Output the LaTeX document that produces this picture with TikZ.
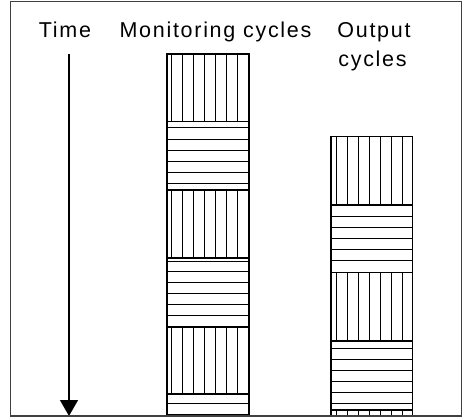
\documentclass[tikz,border=0pt]{standalone}
\usepackage{fontspec}
\setmainfont{Liberation Sans}[LetterSpace=8]
\usetikzlibrary{arrows.meta}
\tikzset{
  frameline/.style={draw=black!75, line width=1.8pt},
  hatch/.style={draw=black, line width=0.9pt},
  border/.style={draw=black, line width=1.6pt},
  label/.style={inner sep=0pt, anchor=base, font=\fontsize{21.5}{25}\selectfont},
  timearrow/.style={draw=black, line width=1.3pt, -{Triangle[width=18pt,length=16pt]}}
}
\begin{document}
\begin{tikzpicture}[x=1pt,y=-1pt]
\useasboundingbox (0,0) rectangle (463,417);
\fill[white] (0,0) rectangle (463,417);
% labels
\node[label] (time) at (65,37.5) {Time};
\node[label] (mon) at (215.5,37.5) {Monitoring cycles};
\node[label] (out1) at (374,37.5) {Output};
\node[label] (out2) at (372.5,66.5) {cycles};
% time arrow
\coordinate (tstart) at (69,54);
\coordinate (tend) at (69,416);
\draw[timearrow] (tstart) -- (tend);
% monitoring column
\begin{scope}
\clip (160,50) rectangle (260,416);
\foreach \a/\b in {54.3/121.7, 190/257.7, 326.7/394}{
  \foreach \k in {0,...,6}{\draw[hatch] ({171.3+11*\k},\a) -- ({171.3+11*\k},\b);}
}
\foreach \y in {127.7,139,150,161.3,172.3,183.3, 261,271.7,282.3,293.3,304.3,315.7, 403.3,414.3}{
  \draw[hatch] (166.7,\y) -- (248.7,\y);
}
\foreach \y in {121.7,190,257.7,326.7,394}{\draw[border] (166.7,\y) -- (248.7,\y);}
\draw[border] (166.7,420) -- (166.7,54.3) -- (248.7,54.3) -- (248.7,420);
\end{scope}
% output column
\begin{scope}
\clip (325,130) rectangle (420,416);
\foreach \a/\b in {136.7/205, 272.3/341, 410/420}{
  \foreach \k in {0,...,6}{\draw[hatch] ({336.7+11*\k},\a) -- ({336.7+11*\k},\b);}
}
\foreach \y in {216.7,227.3,238.3,249.3,260.7, 348.3,359.3,370.3,381.7,392.7,403.3}{
  \draw[hatch] (331,\y) -- (412.3,\y);
}
\foreach \y in {205,272.3,341,410}{\draw[border] (331,\y) -- (412.3,\y);}
\draw[border] (331,420) -- (331,136.7) -- (412.3,136.7) -- (412.3,420);
\end{scope}
% frame
\draw[frameline] (10.5,1.5) rectangle (461.5,416);
\end{tikzpicture}
\end{document}
